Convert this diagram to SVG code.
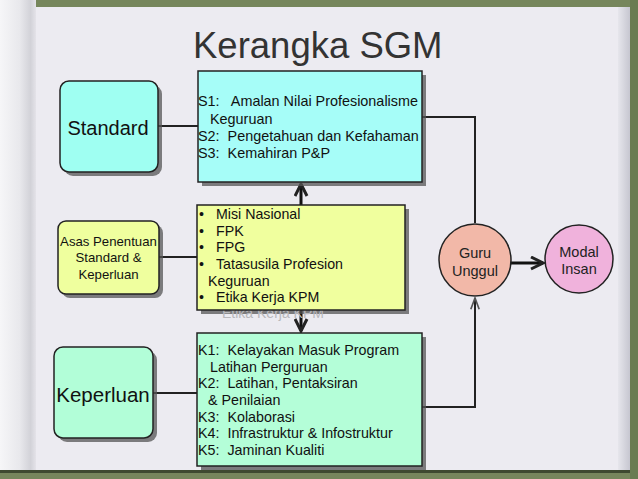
<svg xmlns="http://www.w3.org/2000/svg" width="638" height="479" viewBox="0 0 638 479">
<defs>
<linearGradient id="curl" x1="0" y1="0" x2="1" y2="0">
<stop offset="0" stop-color="#f6f6f8"/>
<stop offset="0.55" stop-color="#e8e8ec"/>
<stop offset="0.85" stop-color="#d2d2d8"/>
<stop offset="1" stop-color="#e4e3e9"/>
</linearGradient>
<linearGradient id="edge" x1="0" y1="0" x2="1" y2="0">
<stop offset="0" stop-color="#e6e6ec"/>
<stop offset="1" stop-color="#c6c6d0"/>
</linearGradient>
<marker id="arr" viewBox="0 0 10 10" refX="9" refY="5" markerWidth="5" markerHeight="5" orient="auto">
<path d="M1,1 L9,5 L1,9" fill="none" stroke="#222" stroke-width="2"/>
</marker>
<marker id="arrs" viewBox="0 0 10 10" refX="9" refY="5" markerWidth="7" markerHeight="7" orient="auto">
<path d="M1,2 L9,5 L1,8" fill="none" stroke="#555" stroke-width="1.2"/>
</marker>
</defs>
<style>
.t{font-family:"Liberation Sans",Arial,sans-serif;fill:#111;white-space:pre}
.box{stroke:#222;stroke-width:1.5}
.sh{fill:#555;opacity:0.75}
.ln{fill:none;stroke:#222;stroke-width:2}
.thick{fill:none;stroke:#111;stroke-width:3}
</style>
<!-- background -->
<rect x="0" y="0" width="638" height="479" fill="#76865c"/>
<rect x="0" y="7" width="630" height="465" fill="#ecebf1"/>
<rect x="0" y="0" width="36" height="472" fill="url(#curl)"/>
<rect x="618" y="7" width="12" height="465" fill="url(#edge)"/>
<rect x="0" y="470" width="630" height="3" fill="#3e4a30"/>
<rect x="630" y="0" width="8" height="479" fill="#6a7c52"/>
<text class="t" x="193" y="58" font-size="36.5" style="fill:#333">Kerangka SGM</text>
<!-- connectors -->
<g id="connectors">
<line class="ln" x1="158" y1="126" x2="198" y2="126"/>
<line class="ln" x1="159" y1="257" x2="197" y2="257"/>
<line class="ln" x1="153" y1="393" x2="197" y2="393"/>
<polyline class="ln" points="422,117 475,117 475,223"/>
<polyline class="ln" points="422,407 475,407 475,298" marker-end="url(#arrs)"/>
<line class="thick" x1="301" y1="205" x2="301" y2="184" marker-end="url(#arr)"/>
<line class="thick" x1="301" y1="310" x2="301" y2="331" marker-end="url(#arr)"/>
<line class="thick" x1="511" y1="263" x2="543" y2="263" marker-end="url(#arr)"/>
</g>
<g id="standard">
<rect class="sh" x="64" y="85" width="98" height="91" rx="9"/>
<rect class="box" x="60" y="81" width="98" height="91" rx="9" fill="#9ffff2"/>
<text class="t" x="108" y="135" font-size="20" text-anchor="middle">Standard</text>
</g>
<g id="s-box">
<rect class="sh" x="202" y="75" width="224" height="111"/>
<rect class="box" x="198" y="71" width="224" height="111" fill="#a6fdf8"/>
<text class="t" font-size="14.4" xml:space="preserve"><tspan x="198" y="106">S1:   Amalan Nilai Profesionalisme</tspan><tspan x="210" y="124">Keguruan</tspan><tspan x="198" y="141">S2:  Pengetahuan dan Kefahaman</tspan><tspan x="198" y="158">S3:  Kemahiran P&amp;P</tspan></text>
</g>
<g id="asas">
<rect class="sh" x="62" y="225" width="101" height="73" rx="8"/>
<rect class="box" x="58" y="221" width="101" height="73" rx="8" fill="#efff9e"/>
<text class="t" font-size="13.2" text-anchor="middle"><tspan x="108.5" y="246">Asas Penentuan</tspan><tspan x="108.5" y="262">Standard &amp;</tspan><tspan x="108.5" y="279">Keperluan</tspan></text>
</g>
<g id="misi-box">
<rect class="sh" x="201" y="209" width="208" height="105"/>
<text class="t" x="222" y="318" font-size="14" style="fill:#b8b8bc">Etika Kerja KPM</text>
<rect class="box" x="197" y="205" width="208" height="105" fill="#f0ff9e"/>
<text class="t" font-size="14.2"><tspan x="199" y="219">•</tspan><tspan x="216" y="219">Misi Nasional</tspan><tspan x="199" y="236">•</tspan><tspan x="216" y="236">FPK</tspan><tspan x="199" y="252">•</tspan><tspan x="216" y="252">FPG</tspan><tspan x="199" y="269">•</tspan><tspan x="216" y="269">Tatasusila Profesion</tspan><tspan x="208" y="286">Keguruan</tspan><tspan x="199" y="302">•</tspan><tspan x="216" y="302">Etika Kerja KPM</tspan></text>
</g>
<g id="keperluan">
<rect class="sh" x="58" y="351" width="99" height="91" rx="9"/>
<rect class="box" x="54" y="347" width="99" height="91" rx="9" fill="#b2fed8"/>
<text class="t" x="103" y="402" font-size="20.5" text-anchor="middle">Keperluan</text>
</g>
<g id="k-box">
<rect class="sh" x="201" y="337" width="225" height="133"/>
<rect class="box" x="197" y="333" width="225" height="133" fill="#b4fed8"/>
<text class="t" font-size="14.3" xml:space="preserve"><tspan x="198" y="355">K1:  Kelayakan Masuk Program</tspan><tspan x="210" y="372">Latihan Perguruan</tspan><tspan x="198" y="388">K2:  Latihan, Pentaksiran</tspan><tspan x="208" y="405">&amp; Penilaian</tspan><tspan x="198" y="422">K3:  Kolaborasi</tspan><tspan x="198" y="438">K4:  Infrastruktur &amp; Infostruktur</tspan><tspan x="198" y="455">K5:  Jaminan Kualiti</tspan></text>
</g>
<g id="guru">
<circle class="box" cx="475" cy="260" r="36" fill="#f2b8a8"/>
<text class="t" font-size="14.5" text-anchor="middle" style="fill:#222"><tspan x="475" y="258">Guru</tspan><tspan x="475" y="276">Unggul</tspan></text>
</g>
<g id="modal">
<circle class="box" cx="579" cy="259" r="34" fill="#f0b2dc"/>
<text class="t" font-size="14.5" text-anchor="middle" style="fill:#222"><tspan x="579" y="257">Modal</tspan><tspan x="579" y="274">Insan</tspan></text>
</g>
</svg>
